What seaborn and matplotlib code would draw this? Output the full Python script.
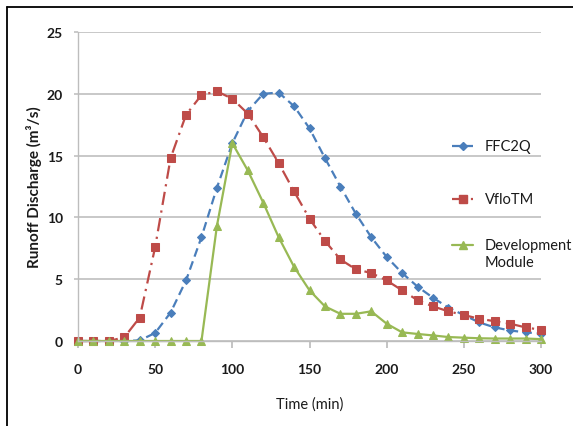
import matplotlib
matplotlib.use("Agg")
import matplotlib.pyplot as plt
from matplotlib.lines import Line2D
import seaborn as sns
import pandas as pd

time = [0, 10, 20, 30, 40, 50, 60, 70, 80, 90, 100, 110, 120, 130, 140, 150,
        160, 170, 180, 190, 200, 210, 220, 230, 240, 250, 260, 270, 280, 290, 300]
ffc2q = [0, 0, 0, 0, 0.05, 0.65, 2.3, 4.9, 8.4, 12.4, 16.0, 18.6, 20.0, 20.1, 19.0,
         17.2, 14.8, 12.5, 10.3, 8.4, 6.8, 5.5, 4.4, 3.5, 2.7, 2.1, 1.5, 1.1, 0.85, 0.7, 0.6]
vflotm = [0, 0, 0, 0.3, 1.9, 7.6, 14.8, 18.3, 19.9, 20.2, 19.6, 18.4, 16.5, 14.4, 12.1,
          9.9, 8.1, 6.6, 5.8, 5.5, 4.9, 4.1, 3.3, 2.8, 2.4, 2.1, 1.8, 1.6, 1.4, 1.1, 0.9]
devmod = [0, 0, 0, 0, 0, 0, 0, 0, 0, 9.3, 16.0, 13.8, 11.2, 8.4, 6.0, 4.1, 2.8, 2.2,
          2.2, 2.4, 1.4, 0.7, 0.57, 0.45, 0.32, 0.27, 0.22, 0.2, 0.2, 0.2, 0.15]

labels = ["FFC2Q", "VfloTM", "Development", "Module"]
colors = ["#4a7ebb", "#be4b48", "#98b954"]
markers = ["D", "s", "^"]
msizes = [4.5, 6, 6]
dash_patterns = [[4, 2.2], [6, 2.5, 1, 2.5], None]

sns.set_theme(style="white")
plt.rcParams["font.family"] = ["Lato", "DejaVu Sans"]

W, H = 573, 427
fig = plt.figure(figsize=(W / 100, H / 100), dpi=100)
ax = fig.add_axes([78 / W, 1 - 342 / H, 463 / W, 309 / H])

df = pd.DataFrame({"time": time, "ffc2q": ffc2q, "vflotm": vflotm, "dev": devmod})

for col, c, m, ms, dp in zip(["ffc2q", "vflotm", "dev"], colors, markers, msizes, dash_patterns):
    sns.lineplot(data=df, x="time", y=col, ax=ax, color=c, marker=m,
                 markersize=ms, markeredgecolor=c, linewidth=1.6, legend=False)
    ln = ax.lines[-1]
    ln.set_clip_on(False)
    if dp:
        ln.set_dashes(dp)

ax.set_xlim(0, 300)
ax.set_ylim(0, 25)
ax.set_xticks([0, 50, 100, 150, 200, 250, 300])
ax.set_yticks([0, 5, 10, 15, 20, 25])
ax.yaxis.grid(True, color="#c4c4c4", linewidth=1.3)
ax.xaxis.grid(False)
ax.set_axisbelow(True)
for s in ["top", "right"]:
    ax.spines[s].set_visible(False)
for s in ["left", "bottom"]:
    ax.spines[s].set_color("#bdbdbd")
    ax.spines[s].set_linewidth(1.0)
ax.tick_params(axis="x", which="both", bottom=True, length=5, color="#bdbdbd",
               pad=11, labelsize=10)
ax.tick_params(axis="y", which="both", left=True, length=3, color="#c4c4c4",
               pad=8, labelsize=10)
for t in ax.get_xticklabels() + ax.get_yticklabels():
    t.set_fontweight("bold")
    t.set_color("#1a1a1a")

ax.set_xlabel("Time (min)", fontsize=10.5, labelpad=15, color="#1a1a1a")
ax.set_ylabel("Runoff Discharge (m³/s)", fontsize=11, fontweight="bold",
              labelpad=3, color="#1a1a1a")

# legend drawn at the reference's positions (pixels)
entry_y = [147, 200, 246]
for (c, m, ms, dp, y, lab) in zip(colors, markers, msizes, dash_patterns, entry_y, labels):
    yy = 1 - y / H
    ln = Line2D([452 / W, 473 / W], [yy, yy], transform=fig.transFigure, color=c,
                linewidth=1.6)
    if dp:
        ln.set_dashes(dp)
    fig.add_artist(ln)
    fig.add_artist(Line2D([462.5 / W], [yy], transform=fig.transFigure, color=c,
                          marker=m, markersize=ms, markeredgecolor=c, linestyle="none"))
    fig.text(485 / W, yy, lab, fontsize=10.5, va="center", ha="left", color="#1a1a1a")
fig.text(485 / W, 1 - 263 / H, labels[3], fontsize=10.5, va="center", ha="left",
         color="#1a1a1a")

fig.add_artist(Line2D([7 / W, 7 / W], [0, 1 - 8 / H], transform=fig.transFigure,
                      color="black", linewidth=1.3))
fig.add_artist(Line2D([7 / W, 1], [1 - 8 / H, 1 - 8 / H], transform=fig.transFigure,
                      color="black", linewidth=1.3))

fig.savefig("out.png", dpi=100)
